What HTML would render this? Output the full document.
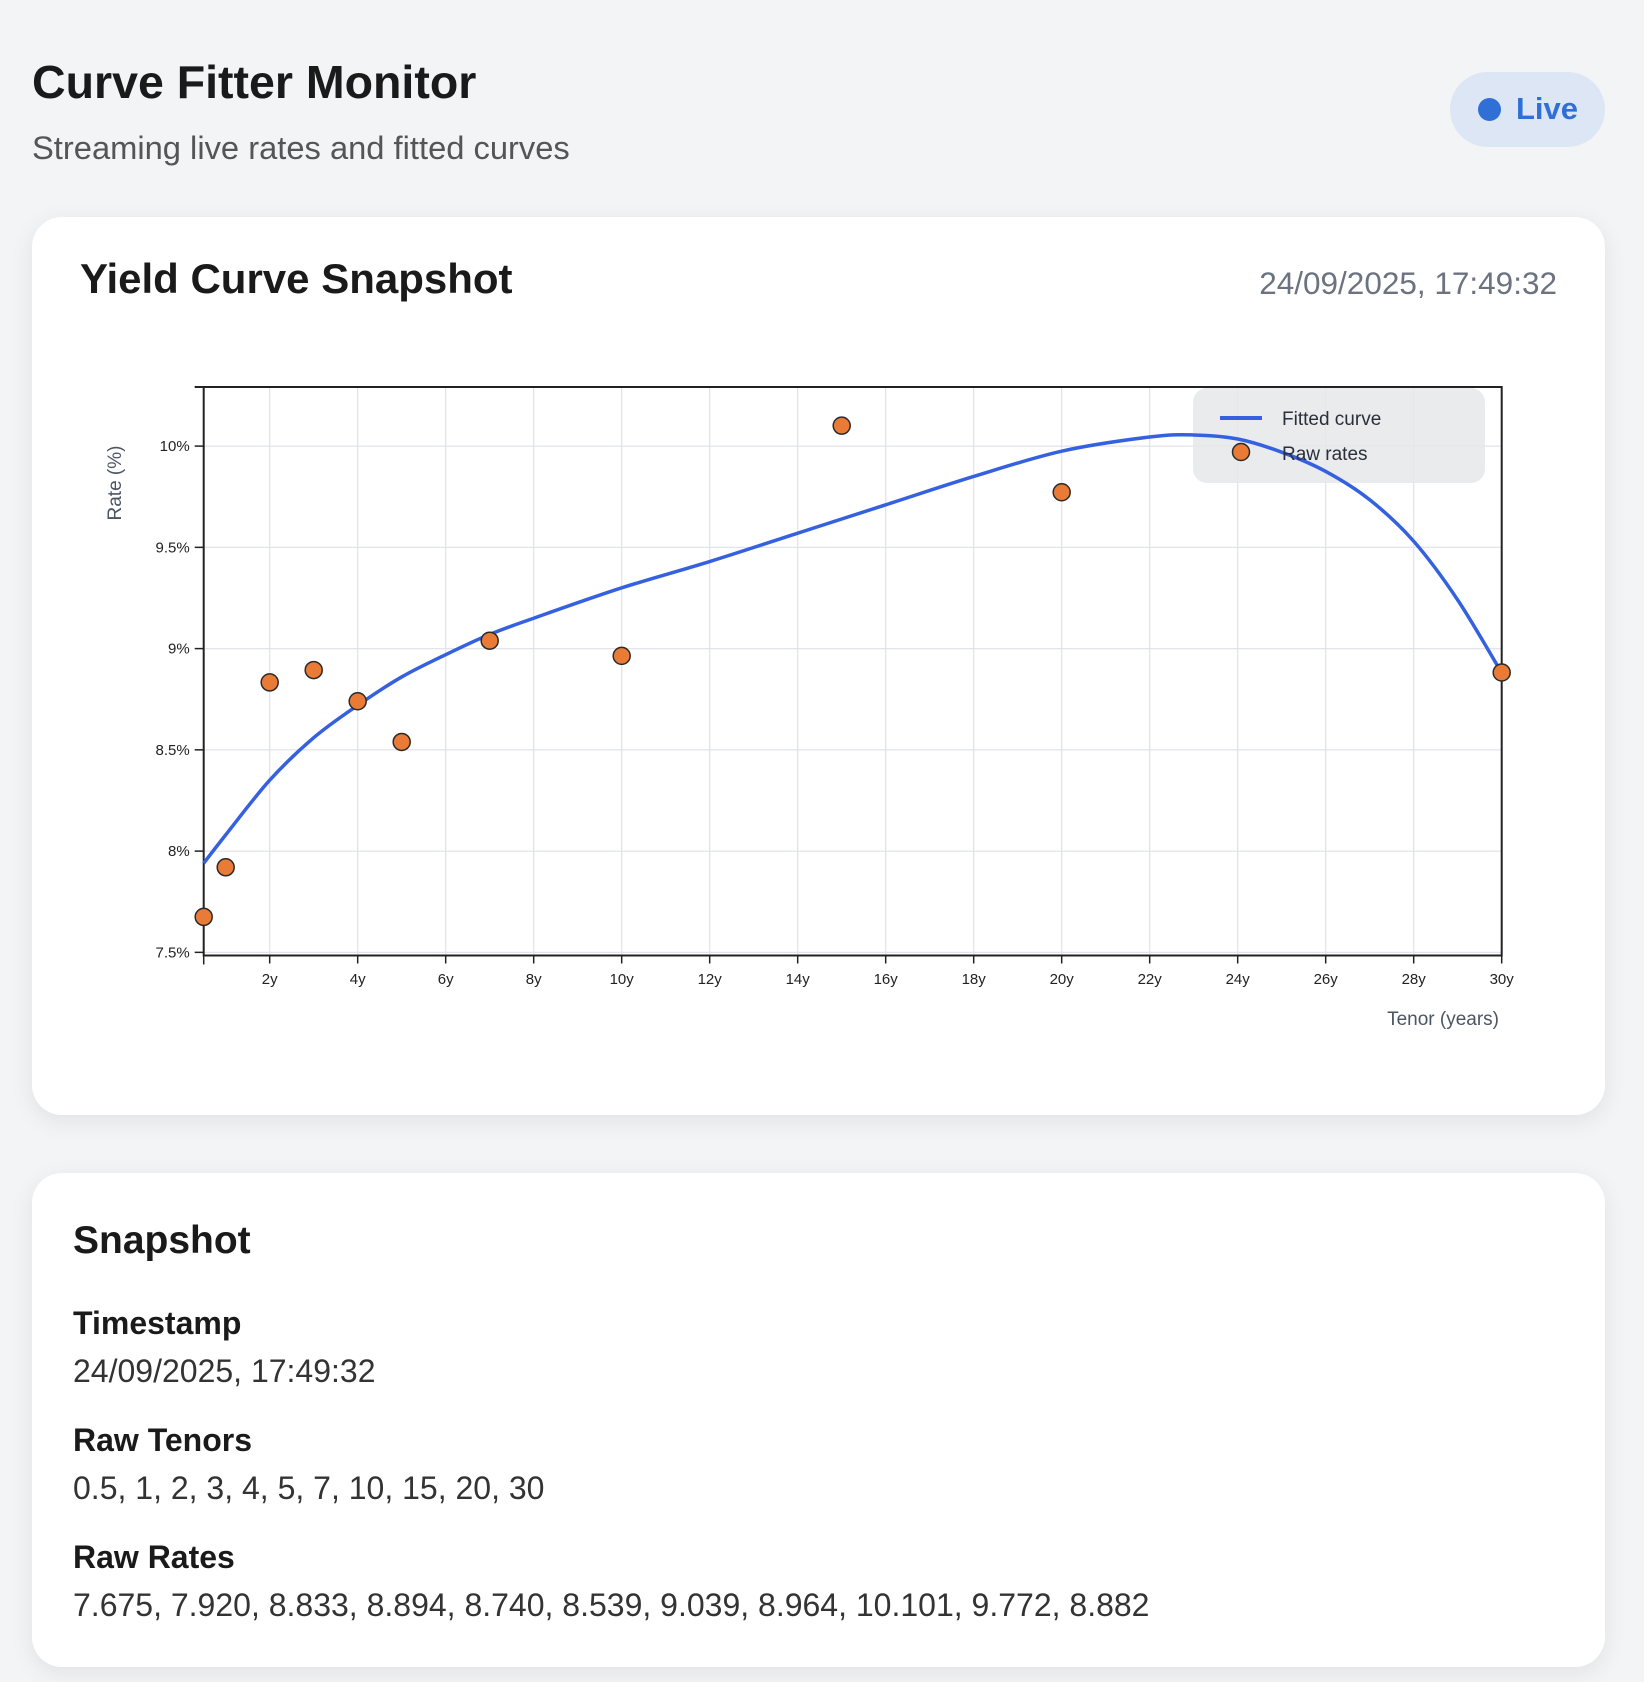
<!DOCTYPE html>
<html><head><meta charset="utf-8"><style>
body{margin:0;width:1644px;height:1682px;background:#f3f4f6;font-family:"Liberation Sans",sans-serif;position:relative;overflow:hidden}
.a{position:absolute;white-space:nowrap}
.card{position:absolute;left:32px;width:1573px;background:#fff;border-radius:30px;box-shadow:0 6px 24px rgba(0,0,0,0.08)}
</style></head><body>
<div class="a" style="left:32px;top:55px;font-size:46.5px;font-weight:bold;color:#1a1a1a">Curve Fitter Monitor</div>
<div class="a" style="left:32px;top:129px;font-size:32.7px;color:#555">Streaming live rates and fitted curves</div>
<div class="a" style="left:1450px;top:72px;width:155px;height:75px;border-radius:38px;background:#dde6f4">
 <div class="a" style="left:28px;top:26px;width:23px;height:23px;border-radius:50%;background:#2f6fd6"></div>
 <div class="a" style="left:66px;top:19px;font-size:31px;font-weight:bold;color:#2f6fd6">Live</div>
</div>
<div class="card" style="top:217px;height:898px"></div>
<div class="a" style="left:80px;top:255px;font-size:42px;font-weight:bold;color:#1a1a1a">Yield Curve Snapshot</div>
<div class="a" style="right:87px;top:265px;font-size:31.5px;color:#6b7280">24/09/2025, 17:49:32</div>
<svg class="a" id="chart" style="left:0;top:0" width="1644" height="1120"></svg>
<div class="card" style="top:1173px;height:494px"></div>
<div class="a" style="left:73px;top:1219px;font-size:39px;font-weight:bold;color:#1a1a1a">Snapshot</div>
<div class="a" style="left:73px;top:1305px;font-size:32px;font-weight:bold;color:#1a1a1a">Timestamp</div>
<div class="a" style="left:73px;top:1353px;font-size:32px;color:#333">24/09/2025, 17:49:32</div>
<div class="a" style="left:73px;top:1422px;font-size:32px;font-weight:bold;color:#1a1a1a">Raw Tenors</div>
<div class="a" style="left:73px;top:1470px;font-size:32px;color:#333">0.5, 1, 2, 3, 4, 5, 7, 10, 15, 20, 30</div>
<div class="a" style="left:73px;top:1539px;font-size:32px;font-weight:bold;color:#1a1a1a">Raw Rates</div>
<div class="a" style="left:73px;top:1587px;font-size:32px;color:#333">7.675, 7.920, 8.833, 8.894, 8.740, 8.539, 9.039, 8.964, 10.101, 9.772, 8.882</div>
<script>
const rawTenors=[0.5,1,2,3,4,5,7,10,15,20,30];
const rawRates=[7.675,7.920,8.833,8.894,8.740,8.539,9.039,8.964,10.101,9.772,8.882];
const fitTenors=[0.5,1,2,3,4,5,6,7,8,10,12,14,16,18,20,22,23,24,25,26,27,28,29,30];
const fitRates=[7.94,8.08,8.35,8.56,8.72,8.86,8.97,9.07,9.15,9.30,9.43,9.57,9.71,9.85,9.975,10.045,10.055,10.035,9.97,9.875,9.735,9.53,9.24,8.88];
const xTicks=[2,4,6,8,10,12,14,16,18,20,22,24,26,28,30];
const yTicks=[7.5,8,8.5,9,9.5,10];
const yTickLabels=["7.5%","8%","8.5%","9%","9.5%","10%"];
const NS="http://www.w3.org/2000/svg";
const svg=document.getElementById('chart');
const X0=203.7,X1=1501.7,D0=0.5,D1=30;
const x=v=>X0+(v-D0)/(D1-D0)*(X1-X0);
const y=v=>446.1-(v-10)*202.5;
function mk(t,a,p){const e=document.createElementNS(NS,t);for(const k in a)e.setAttribute(k,a[k]);(p||svg).appendChild(e);return e;}
const PT=387,PB=955.5;
for(const t of xTicks){const g=mk('line',{x1:x(t),x2:x(t),y1:PT,y2:PB,stroke:'#e1e4ea','stroke-width':1.3});


const tk=mk('line',{x1:x(t),x2:x(t),y1:PB,y2:PB+8,stroke:'#222','stroke-width':1.5});


const l=mk('text',{x:x(t),y:984,'text-anchor':'middle','font-size':15,fill:'#222'});l.textContent=t+'y';

}
yTicks.forEach((t,i)=>{const g=mk('line',{x1:X0,x2:X1,y1:y(t),y2:y(t),stroke:'#e1e4ea','stroke-width':1.3});


const tk=mk('line',{x1:X0-9,x2:X0,y1:y(t),y2:y(t),stroke:'#222','stroke-width':1.5});


const l=mk('text',{x:X0-14,y:y(t)+5,'text-anchor':'end','font-size':15,fill:'#222'});l.textContent=yTickLabels[i];

});
const fr=mk('path',{d:`M${X0-9},${PT}H${X1}V${PB}H${X0}V${PT}`,fill:'none',stroke:'#222','stroke-width':2});


const ft=mk('line',{x1:X0,x2:X0,y1:PB,y2:PB+9,stroke:'#222','stroke-width':1.5});


const lg=mk('rect',{x:1193,y:388,width:292,height:95,rx:14,fill:'#e5e7ea','fill-opacity':0.85});


const P=fitTenors.map((t,i)=>[x(t),y(fitRates[i])]);
let d='M'+P[0].join(',');
for(let i=0;i<P.length-1;i++){const p0=P[Math.max(0,i-1)],p1=P[i],p2=P[i+1],p3=P[Math.min(P.length-1,i+2)];
d+=`C${p1[0]+(p2[0]-p0[0])/6},${p1[1]+(p2[1]-p0[1])/6} ${p2[0]-(p3[0]-p1[0])/6},${p2[1]-(p3[1]-p1[1])/6} ${p2[0]},${p2[1]}`;}
const c=mk('path',{d,fill:'none',stroke:'#3561e0','stroke-width':3.5});


rawTenors.forEach((t,i)=>{const m=mk('circle',{cx:x(t),cy:y(rawRates[i]),r:8.5,fill:'#ea7b37',stroke:'#2a2a2a','stroke-width':1.5});

});
const l1=mk('line',{x1:1220,x2:1262,y1:418,y2:418,stroke:'#3561e0','stroke-width':4});


const t1=mk('text',{x:1282,y:425,'font-size':19,fill:'#2a2f3a'});t1.textContent='Fitted curve';


const m2=mk('circle',{cx:1241,cy:452,r:8.5,fill:'#ea7b37',stroke:'#2a2a2a','stroke-width':1.5});


const t2=mk('text',{x:1282,y:460,'font-size':19,fill:'#2a2f3a'});t2.textContent='Raw rates';


const xt=mk('text',{x:1499,y:1025,'text-anchor':'end','font-size':19,fill:'#4b5563'});xt.textContent='Tenor (years)';


const yt=mk('text',{x:0,y:0,'text-anchor':'middle','font-size':19,fill:'#4b5563',transform:'translate(121,483) rotate(-90)'});yt.textContent='Rate (%)';


</script>
</body></html>
